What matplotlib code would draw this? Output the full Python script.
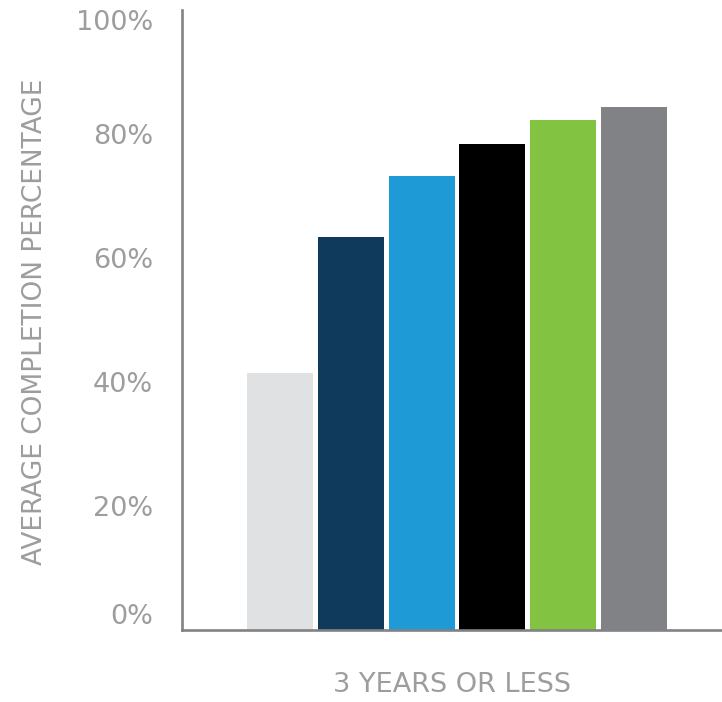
import matplotlib.pyplot as plt

# values (single group "3 YEARS OR LESS")
series_values = [41.5, 63.4, 73.2, 78.4, 82.3, 84.4]
bar_colors = ['#E0E1E3', '#0F3A5C', '#1E9AD6', '#000000', '#82C341', '#818285']
y_ticks = [0, 20, 40, 60, 80, 100]
y_tick_labels = ['0%', '20%', '40%', '60%', '80%', '100%']
group_label = '3 YEARS OR LESS'
y_title = 'AVERAGE COMPLETION PERCENTAGE'

text_gray = '#9D9D9D'
axis_gray = '#808285'
plt.rcParams['font.family'] = ['DejaVu Sans']


def main():
    fig = plt.figure(figsize=(7.22, 7.02), dpi=100)
    ax = fig.add_axes([182 / 722, 72 / 702, 540 / 722, 620 / 702])

    xs = list(range(len(series_values)))
    ax.bar(xs, series_values, width=0.93, color=bar_colors, zorder=2)

    ax.set_xlim(-1.384, 6.243)
    ax.set_ylim(0, 100)

    ax.set_xticks([])
    ax.set_yticks(y_ticks)
    ax.set_yticklabels(y_tick_labels, fontsize=19.5, color=text_gray)
    ax.tick_params(axis='y', length=0, pad=21)
    # first / last labels sit inside the axis range like in the reference
    labels = ax.get_yticklabels()
    labels[0].set_va('bottom')
    labels[-1].set_va('top')

    for side in ['top', 'right']:
        ax.spines[side].set_visible(False)
    for side in ['left', 'bottom']:
        ax.spines[side].set_color(axis_gray)
        ax.spines[side].set_linewidth(1.9)

    ax.set_xlabel(group_label, fontsize=19.5, color=text_gray, labelpad=30)
    fig.text(35 / 722, 1 - 322 / 702, y_title, rotation=90, ha='center',
             va='center', fontsize=19, color=text_gray)

    fig.savefig('out.png', dpi=100)


if __name__ == "__main__":
    main()
